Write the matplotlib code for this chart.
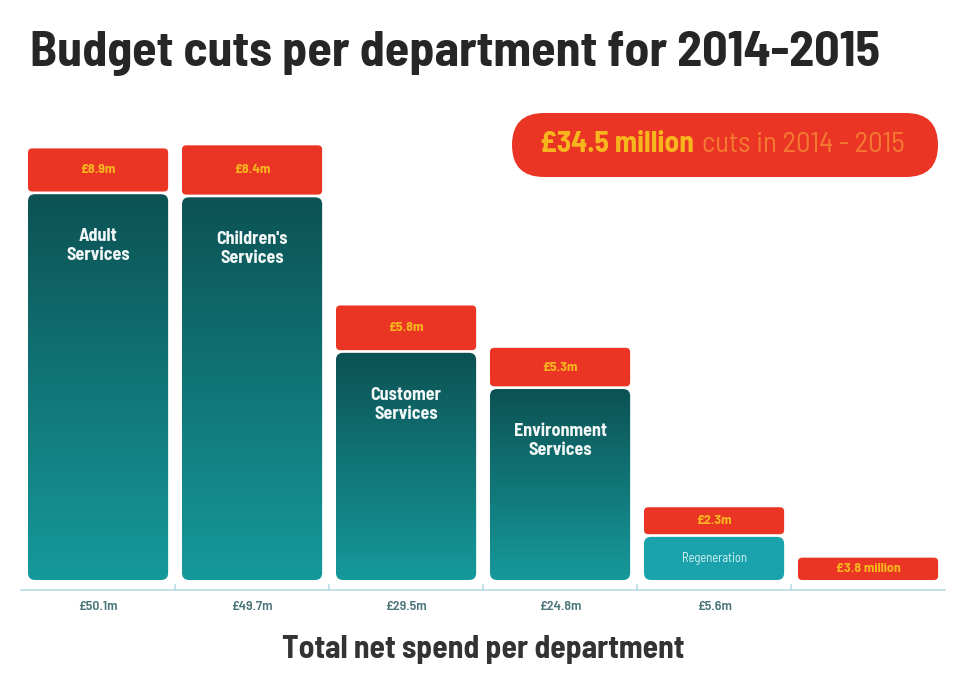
import numpy as np
import matplotlib
matplotlib.use("Agg")
import matplotlib.pyplot as plt
from matplotlib.patches import FancyBboxPatch
from matplotlib.colors import LinearSegmentedColormap
from matplotlib import font_manager as fm

# ---- data ----
departments = ["Adult\nServices", "Children's\nServices", "Customer\nServices",
               "Environment\nServices", "Regeneration", ""]
spend = [50.1, 49.7, 29.5, 24.8, 5.6, 0.0]          # £m total net spend
cuts = [8.9, 8.4, 5.8, 5.3, 2.3, 3.8]               # £m budget cuts
spend_labels = ["£50.1m", "£49.7m", "£29.5m", "£24.8m", "£5.6m", ""]
cut_labels = ["£8.9m", "£8.4m", "£5.8m", "£5.3m", "£2.3m", "£3.8 million"]
total_label = "£34.5 million"
total_suffix = "cuts in 2014 - 2015"
title = "Budget cuts per department for 2014-2015"
xlabel = "Total net spend per department"

# ---- style ----
installed = {f.name for f in fm.fontManager.ttflist}
prefs = ["Barlow Semi Condensed", "Barlow Condensed", "Roboto Condensed",
         "Encode Sans Semi Condensed", "Archivo Narrow", "PT Sans Narrow",
         "Liberation Sans Narrow", "Open Sans"]
MAIN = next((p for p in prefs if p in installed), "DejaVu Sans")
FONT = [MAIN, "DejaVu Sans"]

RED = "#ea3424"
YELLOW = "#f7b51e"
TEAL_TOP = "#0c5254"
TEAL_BOT = "#16999a"
REGEN = "#1aa3ad"
BOX_H = [5.6, 6.4, 5.8, 5.0, 3.5, 2.9]
GAP = 0.35
W = 0.91

fig = plt.figure(figsize=(9.66, 6.76), dpi=100)
slot = 154 / 966
left = (28 - (1 - W) / 2 * 154) / 966
ax = fig.add_axes([left, (676 - 590) / 676, 6 * slot, (590 - 96) / 676])
ax.set_xlim(-0.5, 5.5)
ax.set_ylim(-1.3, (590 - 96) / 7.7 - 1.3)
ax.set_aspect("auto")
for s in ["top", "right", "left"]:
    ax.spines[s].set_visible(False)
ax.spines["bottom"].set_color("#b9dbe6")
ax.spines["bottom"].set_linewidth(1.2)
ax.set_yticks([])

x = np.arange(len(departments))
ax.set_xticks(x)
ax.set_xticklabels(spend_labels, family=FONT, fontsize=10, fontweight="semibold",
                   color="#4a7479")
ax.tick_params(axis="x", length=0, pad=8)
for b in x[:-1] + 0.5:
    ax.plot([b, b], [-1.3, -0.6], color="#b9dbe6", lw=1.2, clip_on=False)

px_x = 154.0
px_y = 7.7
rad_px = 7
rs = rad_px / px_x
asp = (rad_px / px_y) / rs

grad = np.linspace(0, 1, 256).reshape(-1, 1)
cmap = LinearSegmentedColormap.from_list("teal", [TEAL_BOT, TEAL_TOP])

bars = ax.bar(x, spend, width=W, color="none", edgecolor="none")
for i, r in enumerate(bars):
    if spend[i] <= 0:
        continue
    x0, y0, w, h = r.get_x(), r.get_y(), r.get_width(), r.get_height()
    patch = FancyBboxPatch((x0, y0), w, h,
                           boxstyle=f"round,pad=0,rounding_size={rs}",
                           mutation_aspect=asp, facecolor="none",
                           edgecolor="none", transform=ax.transData)
    ax.add_patch(patch)
    if i == 4:
        patch.set_facecolor(REGEN)
        ax.text(x[i], h / 2, departments[i], ha="center", va="center",
                family=FONT, fontsize=9, color="#d8f3f4")
    else:
        im = ax.imshow(grad, cmap=cmap, aspect="auto", origin="lower",
                       extent=(x0, x0 + w, y0, y0 + h), zorder=1)
        im.set_clip_path(patch)
        ax.text(x[i], h - 4.4, departments[i], ha="center", va="top",
                family=FONT, fontsize=13, fontweight="bold", color="#f2f7f7",
                linespacing=1.15)

bottoms = [s + GAP if s > 0 else 0 for s in spend]
red = ax.bar(x, BOX_H, bottom=bottoms, width=W, color="none", edgecolor="none")
for i, r in enumerate(red):
    x0, y0, w, h = r.get_x(), r.get_y(), r.get_width(), r.get_height()
    patch = FancyBboxPatch((x0, y0), w, h,
                           boxstyle=f"round,pad=0,rounding_size={rs*0.6}",
                           mutation_aspect=asp, facecolor=RED,
                           edgecolor="none", zorder=2)
    ax.add_patch(patch)
    ax.text(x[i], y0 + h / 2, cut_labels[i], ha="center", va="center",
            family=FONT, fontsize=10, fontweight="bold", color=YELLOW, zorder=3)

xl = ax.set_xlabel(xlabel, family=FONT, fontsize=22, fontweight="bold",
                   color="#333333", labelpad=16)

t = fig.text(30 / 966, 1 - 54 / 676, title, ha="left", va="center", family=FONT,
             fontsize=36, fontweight="bold", color="#262626")

pill = FancyBboxPatch((512 / 966, 1 - 177 / 676), (938 - 512) / 966, 64 / 676,
                      boxstyle=f"round,pad=0,rounding_size={32/966}",
                      mutation_aspect=966 / 676, transform=fig.transFigure,
                      facecolor=RED, edgecolor="none")
fig.patches.append(pill)
t1 = fig.text(540 / 966, 1 - 145 / 676, total_label, ha="left", va="center",
              family=FONT, fontsize=17, fontweight="bold", color=YELLOW)
t2 = fig.text(700 / 966, 1 - 145 / 676, total_suffix, ha="left", va="center",
              family=FONT, fontsize=16, color="#f47a32")

# fit text widths to the reference layout
fig.canvas.draw()
r = fig.canvas.get_renderer()
def fit(txt, target_px):
    wpx = txt.get_window_extent(r).width
    txt.set_fontsize(txt.get_fontsize() * target_px / wpx)
fit(t, 850)
fit(xl, 402)
fit(t1, 155)
fig.canvas.draw()
e1 = t1.get_window_extent(r)
t2.set_x((e1.x1 + 8) / 966)
fit(t2, 905 - (e1.x1 + 8))

fig.savefig("out.png", dpi=100)
